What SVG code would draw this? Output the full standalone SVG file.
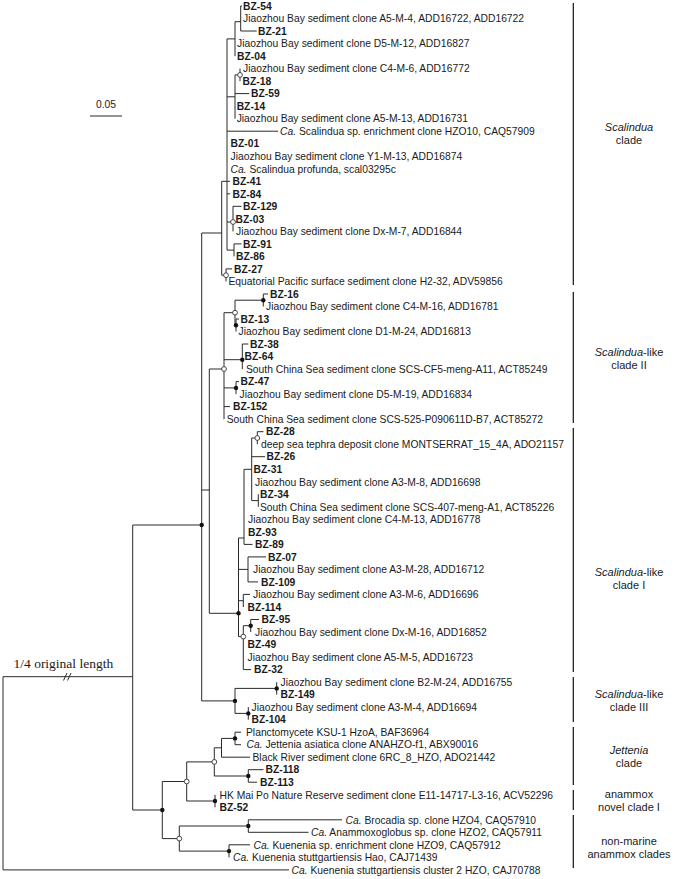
<svg xmlns="http://www.w3.org/2000/svg" width="676" height="879" viewBox="0 0 676 879">
<style>
.t{font-family:"Liberation Sans",Arial,sans-serif;font-size:10.3px;fill:#1a1a1a}
.b{font-weight:bold}
.i{font-style:italic}
.c{font-family:"Liberation Sans",Arial,sans-serif;font-size:11px;fill:#1a1a1a;text-anchor:middle}
.s{font-family:"Liberation Serif","Times New Roman",serif;font-size:13.5px;fill:#1a1a1a}
.ln{stroke:#2a2a2a;stroke-width:1;fill:none}
.bar{stroke:#111;stroke-width:1.2;fill:none}
.dot{fill:#111}
.oc{fill:#fff;stroke:#333;stroke-width:0.9}
</style>
<rect width="676" height="879" fill="#fff"/>
<g id="connectors">
<path class="ln" d="M240.7 6V31M240.7 6H242M240.7 31H256.7M235 21.7H240.7M235 21.7V56.1M240 68.6V81.1M235 74.9H240M235 74.9V118.7M235 93.6H249.3M227 38.9V250.1M227 38.9H235M227 96.8H235M227 131.2H278M227 181.3H230M227 193.8H230M233 206.3V231.4M227 222H233M233 206.3H241.5M234 243.9V256.4M227 250.1H234M234 243.9H241.5M226 268.9V281.4M226 268.9H232M221.7 181.3V275.2M221.7 181.3H227M221.7 275.2H226M201.7 233H221.7"/>
<path class="ln" d="M263.3 294V306.5M263.3 294H268M236 319V331.5M236 319H239M235 300.2V325.2M235 300.2H263.3M235 325.2H236M242.3 344V369.1M242.3 344H248.3M236 381.6V394.1M236 381.6H239M224 312.7V419.2M224 312.7H235M224 359.7H242.3M224 387.9H236M224 406.6H230M209.3 369H224"/>
<path class="ln" d="M257.3 431.7V444.2M257.3 431.7H263.5M258.3 494.3V506.8M251.7 438V500.6M251.7 438H257.3M251.7 500.6H258.3M251.7 456.7H265M244 469.3V544.4M244 469.3H251.7M244 544.4H252.5M248 556.9V581.9M248 556.9H266M248 581.9H258M243.3 594.4V607M243.3 594.4H250M250.7 619.5V632M250.7 619.5H259M243.3 625.7V669.6M243.3 625.7H250.7M243.3 669.6H251M238.5 538V636.6M238.5 538H244M238.5 569.4H248M238.5 600.7H243.3M238.5 636.6H243.3M209.3 613.3H238.5M209.3 369V613.3M201.7 490H209.3"/>
<path class="ln" d="M276.7 682.1V694.6M248.3 707.1V719.6M235 688.4V713.4M235 688.4H276.7M235 713.4H248.3M201.7 700.9H235M201.7 233V700.9M132.7 525H201.7"/>
<path class="ln" d="M235 732.2V744.7M235 732.2H241M235 744.7H241M221.5 738.4V757.2M221.5 738.4H235M221.5 757.2H250M248.3 769.7V782.2M248.3 769.7H263.5M248.3 782.2H257M214.3 747.8V776M214.3 747.8H221.5M214.3 776H248.3M215 794.8V807.3M186.7 761.9V801M186.7 761.9H214.3M186.7 801H215M248.3 819.8V832.3M248.3 819.8H342M248.3 832.3H308.5M229 844.8V857.4M229 844.8H250M179.3 826V851.1M179.3 826H248.3M179.3 851.1H229M162.3 781.5V838.6M162.3 781.5H186.7M162.3 838.6H179.3M132.7 525V810M132.7 810H162.3M3 676.7H132.7M3 676.7V869.9M3 869.9H289"/>
<path class="ln" d="M63.5 680.5L67 673M67.5 680.5L71 673"/>
<path class="ln" d="M90 116H122"/>
</g>
<g id="node-markers">
<circle class="dot" cx="263.3" cy="300.2" r="2.2"/>
<circle class="dot" cx="236" cy="325.2" r="2.2"/>
<circle class="dot" cx="242.3" cy="359.7" r="2.2"/>
<circle class="dot" cx="236" cy="387.9" r="2.2"/>
<circle class="dot" cx="250.7" cy="625.7" r="2.2"/>
<circle class="dot" cx="238.5" cy="613.3" r="2.2"/>
<circle class="dot" cx="276.7" cy="688.4" r="2.2"/>
<circle class="dot" cx="248.3" cy="713.4" r="2.2"/>
<circle class="dot" cx="235" cy="700.9" r="2.2"/>
<circle class="dot" cx="201.7" cy="525" r="2.2"/>
<circle class="dot" cx="235" cy="738.4" r="2.2"/>
<circle class="dot" cx="248.3" cy="776" r="2.2"/>
<circle class="dot" cx="215" cy="801" r="2.2"/>
<circle class="dot" cx="248.3" cy="826" r="2.2"/>
<circle class="dot" cx="229" cy="851.1" r="2.2"/>
<circle class="dot" cx="162.3" cy="810" r="2.2"/>
<circle class="oc" cx="240" cy="74.9" r="2.4"/>
<circle class="oc" cx="233" cy="222" r="2.4"/>
<circle class="oc" cx="226" cy="275.2" r="2.4"/>
<circle class="oc" cx="235" cy="312.7" r="2.4"/>
<circle class="oc" cx="224" cy="369" r="2.4"/>
<circle class="oc" cx="257.3" cy="438" r="2.4"/>
<circle class="oc" cx="243.3" cy="636.6" r="2.4"/>
<circle class="oc" cx="214.3" cy="761.9" r="2.4"/>
<circle class="oc" cx="186.7" cy="781.5" r="2.4"/>
<circle class="oc" cx="179.3" cy="838.6" r="2.4"/>
</g>
<g id="leaves">
<text id="l1" class="t b" x="243" y="9.7">BZ-54</text>
<text id="l2" class="t" x="243" y="22.2">Jiaozhou Bay sediment clone A5-M-4, ADD16722, ADD16722</text>
<text id="l3" class="t b" x="258" y="34.7">BZ-21</text>
<text id="l4" class="t" x="237" y="47.3">Jiaozhou Bay sediment clone D5-M-12, ADD16827</text>
<text id="l5" class="t b" x="237" y="59.8">BZ-04</text>
<text id="l6" class="t" x="243" y="72.3">Jiaozhou Bay sediment clone C4-M-6, ADD16772</text>
<text id="l7" class="t b" x="242.5" y="84.8">BZ-18</text>
<text id="l8" class="t b" x="251" y="97.3">BZ-59</text>
<text id="l9" class="t b" x="236.7" y="109.9">BZ-14</text>
<text id="l10" class="t" x="236.7" y="122.4">Jiaozhou Bay sediment clone A5-M-13, ADD16731</text>
<text id="l11" class="t" x="280" y="134.9"><tspan class="i">Ca.</tspan> Scalindua sp. enrichment clone HZO10, CAQ57909</text>
<text id="l12" class="t b" x="230.5" y="147.4">BZ-01</text>
<text id="l13" class="t" x="230.5" y="159.9">Jiaozhou Bay sediment clone Y1-M-13, ADD16874</text>
<text id="l14" class="t" x="230.5" y="172.5"><tspan class="i">Ca.</tspan> Scalindua profunda, scal03295c</text>
<text id="l15" class="t b" x="232.5" y="185">BZ-41</text>
<text id="l16" class="t b" x="232.5" y="197.5">BZ-84</text>
<text id="l17" class="t b" x="243" y="210">BZ-129</text>
<text id="l18" class="t b" x="235.5" y="222.5">BZ-03</text>
<text id="l19" class="t" x="236" y="235.1">Jiaozhou Bay sediment clone Dx-M-7, ADD16844</text>
<text id="l20" class="t b" x="243" y="247.6">BZ-91</text>
<text id="l21" class="t b" x="236" y="260.1">BZ-86</text>
<text id="l22" class="t b" x="234" y="272.6">BZ-27</text>
<text id="l23" class="t" x="228.5" y="285.1">Equatorial Pacific surface sediment clone H2-32, ADV59856</text>
<text id="l24" class="t b" x="270" y="297.7">BZ-16</text>
<text id="l25" class="t" x="266" y="310.2">Jiaozhou Bay sediment clone C4-M-16, ADD16781</text>
<text id="l26" class="t b" x="240.5" y="322.7">BZ-13</text>
<text id="l27" class="t" x="238.5" y="335.2">Jiaozhou Bay sediment clone D1-M-24, ADD16813</text>
<text id="l28" class="t b" x="250" y="347.7">BZ-38</text>
<text id="l29" class="t b" x="244.5" y="360.3">BZ-64</text>
<text id="l30" class="t" x="246" y="372.8">South China Sea sediment clone SCS-CF5-meng-A11, ACT85249</text>
<text id="l31" class="t b" x="240.5" y="385.3">BZ-47</text>
<text id="l32" class="t" x="239.5" y="397.8">Jiaozhou Bay sediment clone D5-M-19, ADD16834</text>
<text id="l33" class="t b" x="233" y="410.3">BZ-152</text>
<text id="l34" class="t" x="226.7" y="422.9">South China Sea sediment clone SCS-525-P090611D-B7, ACT85272</text>
<text id="l35" class="t b" x="266" y="435.4">BZ-28</text>
<text id="l36" class="t" x="261" y="447.9">deep sea tephra deposit clone MONTSERRAT_15_4A, ADO21157</text>
<text id="l37" class="t b" x="266.5" y="460.4">BZ-26</text>
<text id="l38" class="t b" x="253.5" y="472.9">BZ-31</text>
<text id="l39" class="t" x="255" y="485.5">Jiaozhou Bay sediment clone A3-M-8, ADD16698</text>
<text id="l40" class="t b" x="260" y="498">BZ-34</text>
<text id="l41" class="t" x="260" y="510.5">South China Sea sediment clone SCS-407-meng-A1, ACT85226</text>
<text id="l42" class="t" x="248" y="523">Jiaozhou Bay sediment clone C4-M-13, ADD16778</text>
<text id="l43" class="t b" x="248" y="535.5">BZ-93</text>
<text id="l44" class="t b" x="255" y="548.1">BZ-89</text>
<text id="l45" class="t b" x="268" y="560.6">BZ-07</text>
<text id="l46" class="t" x="253" y="573.1">Jiaozhou Bay sediment clone A3-M-28, ADD16712</text>
<text id="l47" class="t b" x="261" y="585.6">BZ-109</text>
<text id="l48" class="t" x="253" y="598.1">Jiaozhou Bay sediment clone A3-M-6, ADD16696</text>
<text id="l49" class="t b" x="247.5" y="610.7">BZ-114</text>
<text id="l50" class="t b" x="261.5" y="623.2">BZ-95</text>
<text id="l51" class="t" x="255" y="635.7">Jiaozhou Bay sediment clone Dx-M-16, ADD16852</text>
<text id="l52" class="t b" x="247.5" y="648.2">BZ-49</text>
<text id="l53" class="t" x="247.5" y="660.7">Jiaozhou Bay sediment clone A5-M-5, ADD16723</text>
<text id="l54" class="t b" x="254" y="673.3">BZ-32</text>
<text id="l55" class="t" x="280.5" y="685.8">Jiaozhou Bay sediment clone B2-M-24, ADD16755</text>
<text id="l56" class="t b" x="280.5" y="698.3">BZ-149</text>
<text id="l57" class="t" x="251.5" y="710.8">Jiaozhou Bay sediment clone A3-M-4, ADD16694</text>
<text id="l58" class="t b" x="251.5" y="723.3">BZ-104</text>
<text id="l59" class="t" x="246" y="735.9">Planctomycete KSU-1 HzoA, BAF36964</text>
<text id="l60" class="t" x="246.5" y="748.4"><tspan class="i">Ca.</tspan> Jettenia asiatica clone ANAHZO-f1, ABX90016</text>
<text id="l61" class="t" x="252.5" y="760.9">Black River sediment clone 6RC_8_HZO, ADO21442</text>
<text id="l62" class="t b" x="265.5" y="773.4">BZ-118</text>
<text id="l63" class="t b" x="260" y="785.9">BZ-113</text>
<text id="l64" class="t" x="219.5" y="798.5">HK Mai Po Nature Reserve sediment clone E11-14717-L3-16, ACV52296</text>
<text id="l65" class="t b" x="219.5" y="811">BZ-52</text>
<text id="l66" class="t" x="345.5" y="823.5"><tspan class="i">Ca.</tspan> Brocadia sp. clone HZO4, CAQ57910</text>
<text id="l67" class="t" x="311" y="836"><tspan class="i">Ca.</tspan> Anammoxoglobus sp. clone HZO2, CAQ57911</text>
<text id="l68" class="t" x="253.5" y="848.5"><tspan class="i">Ca.</tspan> Kuenenia sp. enrichment clone HZO9, CAQ57912</text>
<text id="l69" class="t" x="233" y="861.1"><tspan class="i">Ca.</tspan> Kuenenia stuttgartiensis Hao, CAJ71439</text>
<text id="l70" class="t" x="291.5" y="873.6"><tspan class="i">Ca.</tspan> Kuenenia stuttgartiensis cluster 2 HZO, CAJ70788</text>
</g>
<g id="scale">
<text class="t" x="106" y="107.5" text-anchor="middle">0.05</text>
<text class="s" x="13.5" y="667.5">1/4 original length</text>
</g>
<g id="clade-scalindua">
<path class="bar" d="M573.3 3V285"/>
<text class="c" x="629" y="131"><tspan class="i">Scalindua</tspan></text>
<text class="c" x="629" y="144">clade</text>
</g>
<g id="clade-II">
<path class="bar" d="M573.3 292V423"/>
<text class="c" x="629" y="356"><tspan class="i">Scalindua</tspan>-like</text>
<text class="c" x="629" y="369">clade II</text>
</g>
<g id="clade-I">
<path class="bar" d="M573.3 428V672"/>
<text class="c" x="629" y="576"><tspan class="i">Scalindua</tspan>-like</text>
<text class="c" x="629" y="589">clade I</text>
</g>
<g id="clade-III">
<path class="bar" d="M573.3 677V722"/>
<text class="c" x="629" y="697.5"><tspan class="i">Scalindua</tspan>-like</text>
<text class="c" x="629" y="710.5">clade III</text>
</g>
<g id="clade-jettenia">
<path class="bar" d="M573.3 727V785"/>
<text class="c" x="629" y="754"><tspan class="i">Jettenia</tspan></text>
<text class="c" x="629" y="767">clade</text>
</g>
<g id="clade-novel">
<path class="bar" d="M573.3 790V810"/>
<text class="c" x="629" y="797.5">anammox</text>
<text class="c" x="629" y="810.5">novel clade I</text>
</g>
<g id="clade-nonmarine">
<path class="bar" d="M573.3 815V868"/>
<text class="c" x="629" y="844.5">non-marine</text>
<text class="c" x="629" y="857.5">anammox clades</text>
</g>
</svg>
